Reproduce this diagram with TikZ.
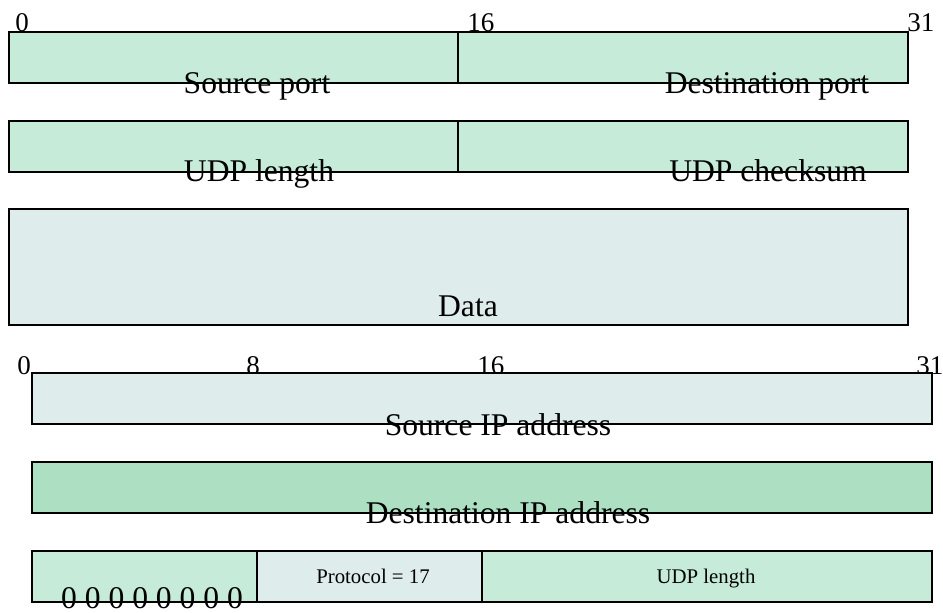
\documentclass[tikz,border=0pt]{standalone}
\usepackage{fontspec}
\setmainfont{Liberation Serif}
\usepackage{xcolor}
\definecolor{hdrgreen}{HTML}{C6ECD9}
\definecolor{hdrgray}{HTML}{DFECEC}
\definecolor{ipgreen}{HTML}{ADDFC3}

\begin{document}
\begin{tikzpicture}[x=0.5pt, y=-0.5pt,
    fld/.style={draw=black, line width=0.6pt},
    lbl/.style={anchor=base, inner sep=0pt, font=\fontsize{15.8}{18}\selectfont},
    bitno/.style={anchor=base west, inner sep=0pt, font=\fontsize{13.5}{16}\selectfont},
    smlbl/.style={anchor=base, inner sep=0pt, font=\fontsize{10.4}{12}\selectfont}]
  \useasboundingbox (0,0) rectangle (943,612);
  % === UDP header: bit numbers ===
  \node[bitno] (ub0)  at (15,31)  {0};
  \node[bitno] (ub16) at (467,31) {16};
  \node[bitno] (ub31) at (907,31) {31};
  % === UDP header: fields ===
  \filldraw[fld, fill=hdrgreen] (9,32)  rectangle (458,83);
  \filldraw[fld, fill=hdrgreen] (458,32) rectangle (908,83);
  \filldraw[fld, fill=hdrgreen] (9,121) rectangle (458,172);
  \filldraw[fld, fill=hdrgreen] (458,121) rectangle (908,172);
  \filldraw[fld, fill=hdrgray]  (9,209) rectangle (908,325);
  \node[lbl] (sport) at (257,93)  {Source port};
  \node[lbl] (dport) at (767,93)  {Destination port};
  \node[lbl] (ulen)  at (259,181) {UDP length};
  \node[lbl] (ucks)  at (768,181) {UDP checksum};
  \node[lbl] (data)  at (468,316) {Data};
  % === Pseudo header: bit numbers ===
  \node[bitno] (pb0)  at (17,374)  {0};
  \node[bitno] (pb8)  at (246,374) {8};
  \node[bitno] (pb16) at (477,374) {16};
  \node[bitno] (pb31) at (916,374) {31};
  % === Pseudo header: fields ===
  \filldraw[fld, fill=hdrgray]  (32,373) rectangle (932,424);
  \filldraw[fld, fill=ipgreen]  (32,462) rectangle (932,513);
  \filldraw[fld, fill=hdrgreen] (32,551) rectangle (257,602);
  \filldraw[fld, fill=hdrgray]  (257,551) rectangle (482,602);
  \filldraw[fld, fill=hdrgreen] (482,551) rectangle (932,602);
  \node[lbl]   (srcip) at (498,435) {Source IP address};
  \node[lbl]   (dstip) at (508,523) {Destination IP address};
  \node[smlbl] (proto) at (373,583) {Protocol = 17};
  \node[smlbl] (plen)  at (706,583) {UDP length};
  \node[lbl]   (zeros) at (152,608) {0 0 0 0 0 0 0 0};
\end{tikzpicture}
\end{document}
